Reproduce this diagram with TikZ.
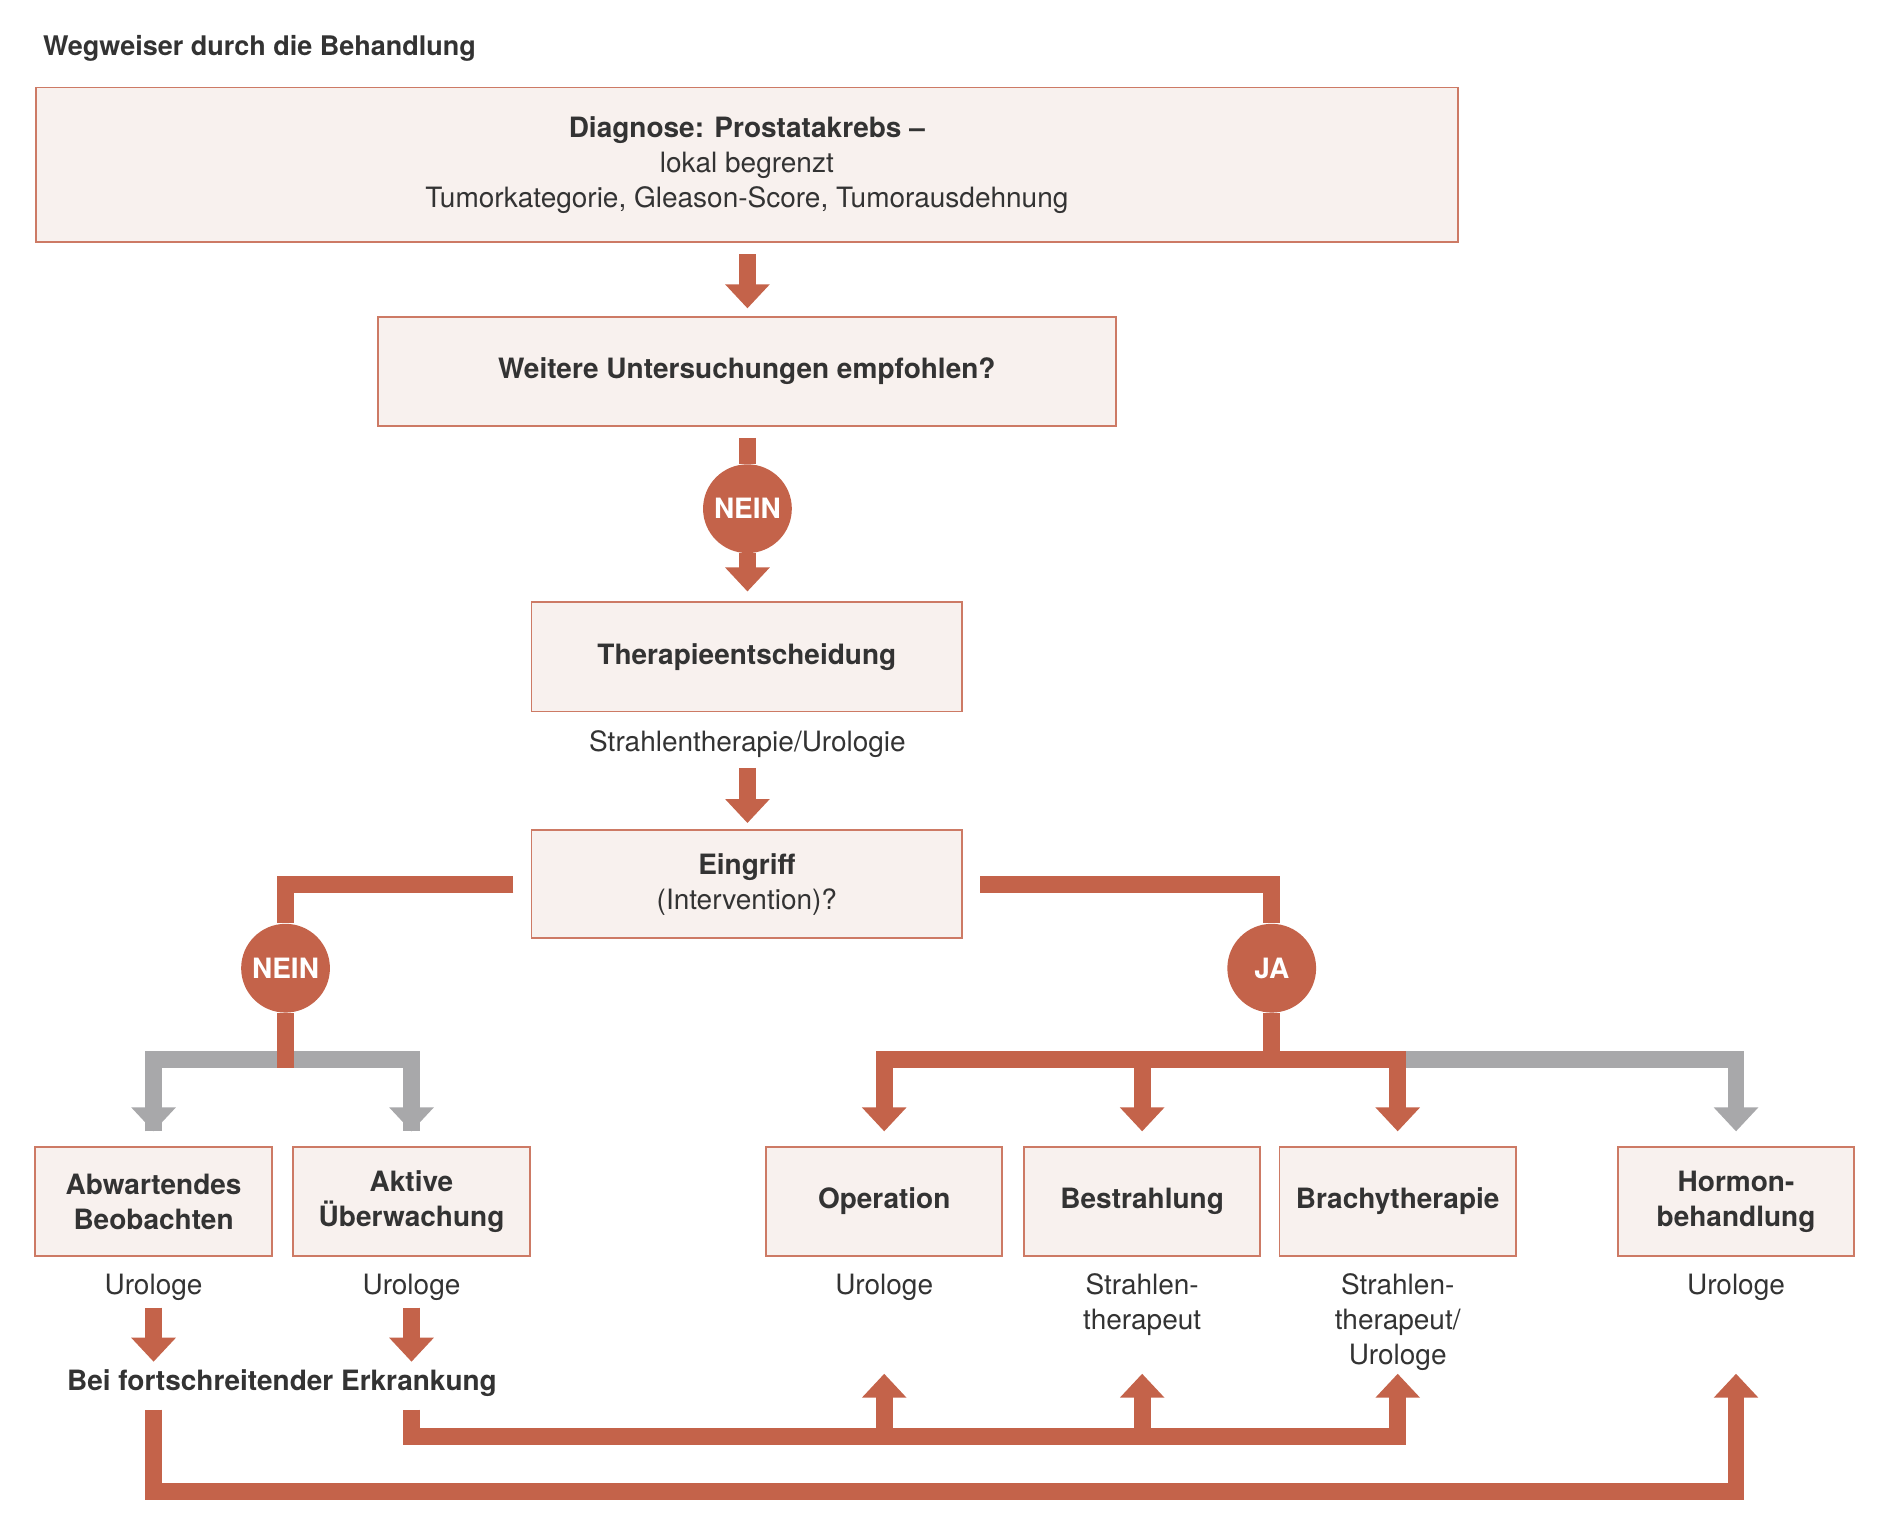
\documentclass[tikz,border=0pt]{standalone}
\usepackage{fontspec}
\setmainfont{TeX Gyre Heros}
\usetikzlibrary{arrows.meta,calc}
\definecolor{rd}{HTML}{C4634A}
\definecolor{fl}{HTML}{F8F1EE}
\definecolor{gy}{HTML}{A8A8AA}
\definecolor{tx}{HTML}{333333}
\begin{document}
\begin{tikzpicture}[x=0.6pt,y=-0.6pt,
  every node/.style={text=tx,font=\fontsize{14}{17.4}\selectfont},
  box/.style={draw=rd!85,fill=fl,line width=0.9pt,align=center,inner sep=0pt,font=\fontsize{14}{17.4}\selectfont\bfseries},
  lab/.style={align=center},
  circ/.style={circle,fill=rd,minimum size={74*0.6pt},inner sep=0pt,text=white,font=\fontsize{14}{17}\selectfont\bfseries},
  ln/.style={line width={14*0.6pt},line cap=butt,line join=miter},
  arr/.style={ln,-{Triangle[width={36*0.6pt},length={20*0.6pt}]}},
]
\useasboundingbox (0,0) rectangle (1567,1281);
\node[anchor=west,font=\fontsize{13.5}{16}\selectfont\bfseries] (title) at (30,40) {Wegweiser durch die Behandlung};
\node[box,minimum width={1185*0.6pt},minimum height={129*0.6pt}] (b1) at (622.5,137.5) {Diagnose: Prostatakrebs –\\\mdseries lokal begrenzt\\\mdseries Tumorkategorie, Gleason-Score, Tumorausdehnung};
\node[box,minimum width={615*0.6pt},minimum height={91*0.6pt}] (b2) at (622.5,309.5) {Weitere Untersuchungen empfohlen?};
\node[circ] (n1) at (623,424) {NEIN};
\node[box,minimum width={359*0.6pt},minimum height={91*0.6pt}] (b3) at (622.5,547.5) {Therapieentscheidung};
\node[lab] (l3) at (623,620) {Strahlentherapie/Urologie};
\node[box,minimum width={359*0.6pt},minimum height={90*0.6pt}] (b4) at (622.5,737) {Eingriff\\\mdseries (Intervention)?};
\node[circ] (n2) at (238,807) {NEIN};
\node[circ] (ja) at (1060,807) {JA};
\foreach \n/\x/\t in {a/128/{Abwartendes\\Beobachten},b/343/{Aktive\\Überwachung},c/737/{Operation},d/952/{Bestrahlung},e/1165/{Brachytherapie},f/1447/{Hormon-\\behandlung}}
  \node[box,minimum width={197*0.6pt},minimum height={91*0.6pt}] (\n) at (\x,1001.5) {\t};
\node[lab,anchor=north] (la) at (128,1056) {Urologe};
\node[lab,anchor=north] (lb) at (343,1056) {Urologe};
\node[lab,anchor=north] (lc) at (737,1056) {Urologe};
\node[lab,anchor=north] (ld) at (952,1056) {Strahlen-\\therapeut};
\node[lab,anchor=north] (le) at (1165,1056) {Strahlen-\\therapeut/\\Urologe};
\node[lab,anchor=north] (lf) at (1447,1056) {Urologe};
\node[font=\fontsize{14}{17}\selectfont\bfseries] (bei) at (235,1153) {Bei fortschreitender Erkrankung};
% top arrows
\draw[arr,rd] (623,212) -- (623,257);
\draw[ln,rd] (623,365) -- (n1.north);
\draw[arr,rd] (n1.south) -- (623,493);
\draw[arr,rd] (623,640) -- (623,686);
% branches
\draw[ln,rd] (428,737) -- (238,737) -- (n2.north);
\draw[ln,rd] (817,737) -- (1060,737) -- (ja.north);
\draw[ln,gy] (128,943) -- (128,883) -- (343,883) -- (343,943);
\draw[arr,gy] (128,900) -- (128,943);
\draw[arr,gy] (343,900) -- (343,943);
\draw[ln,rd] (n2.south) -- (238,890);
\draw[ln,gy] (1165,883) -- (1447,883) -- (1447,930);
\draw[arr,gy] (1447,900) -- (1447,943);
\draw[ln,rd] (737,930) -- (737,883) -- (1165,883) -- (1165,930);
\draw[ln,rd] (ja.south) -- (1060,883);
\draw[arr,rd] (737,900) -- (737,943);
\draw[arr,rd] (952,883) -- (952,943);
\draw[arr,rd] (1165,900) -- (1165,943);
% bottom
\draw[arr,rd] (128,1090) -- (128,1135);
\draw[arr,rd] (343,1090) -- (343,1135);
\draw[ln,rd] (343,1175) -- (343,1197) -- (1165,1197) -- (1165,1170);
\draw[arr,rd] (737,1197) -- (737,1145);
\draw[arr,rd] (952,1197) -- (952,1145);
\draw[arr,rd] (1165,1190) -- (1165,1145);
\draw[ln,rd] (128,1175) -- (128,1243) -- (1447,1243) -- (1447,1170);
\draw[arr,rd] (1447,1190) -- (1447,1145);
\end{tikzpicture}
\end{document}
